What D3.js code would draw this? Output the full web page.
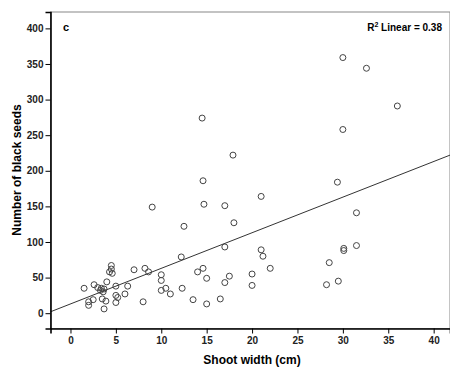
<!DOCTYPE html>
<html>
<head>
<meta charset="utf-8">
<script src="https://cdn.jsdelivr.net/npm/d3@7"></script>
<style>
  body { margin: 0; background: #fff; }
  text { font-family: "Liberation Sans", Arial, sans-serif; }
</style>
</head>
<body>
<svg id="chart" width="450" height="369"></svg>
<script>
// shoot width (cm) vs number of black seeds
const shootWidth = [
  1.5, 2.5, 2.0, 2.0, 2.6, 3.0, 3.4, 3.7, 3.3, 3.6, 3.5, 3.9, 3.7, 4.0,
  4.5, 4.5, 4.3, 4.6, 5.0, 5.0, 5.2, 5.0, 6.0, 6.3, 7.0, 8.2, 8.6, 8.0,
  10.0, 10.0, 10.0, 10.5, 11.0, 12.3, 12.2, 13.5, 14.0, 14.6, 15.0, 15.0,
  16.5, 17.0, 17.0, 17.5, 9.0, 12.5, 14.5, 14.6, 14.7, 17.0, 17.9, 18.0,
  20.0, 20.0, 21.0, 21.0, 21.2, 22.0, 28.2, 28.5, 29.4, 29.5, 30.0, 30.0,
  30.1, 30.1, 31.5, 31.5, 32.6, 36.0
];
const blackSeeds = [
  35, 19, 16, 11, 40, 36, 35, 34, 32, 30, 20, 17, 6, 44,
  67, 62, 58, 56, 38, 25, 22, 15, 27, 38, 61, 63, 58, 16,
  54, 46, 32, 35, 27, 35, 79, 19, 58, 63, 49, 13,
  20, 43, 93, 52, 149, 122, 274, 186, 153, 151, 222, 127,
  55, 39, 164, 89, 80, 63, 40, 71, 184, 45, 359, 258,
  91, 88, 141, 95, 344, 291
];
const xTicks = [0, 5, 10, 15, 20, 25, 30, 35, 40];
const yTicks = [0, 50, 100, 150, 200, 250, 300, 350, 400];
const fit = { intercept: 13, slope: 5.0, r2: 0.38 };

const svg = d3.select("#chart");
const plotL = 50.5, plotR = 450, plotT = 12, plotB = 328.5;

const x = d3.scaleLinear().domain([-2.2, 41.8]).range([plotL, plotR]);
const y = d3.scaleLinear().domain([-21.5, 423]).range([plotB, plotT]);

// frame
svg.append("rect")
  .attr("x", plotL).attr("y", plotT)
  .attr("width", plotR - plotL).attr("height", plotB - plotT)
  .attr("fill", "#fff").attr("stroke", "#888").attr("stroke-width", 1);

// fit line, clipped to plot area
svg.append("clipPath").attr("id", "clip")
  .append("rect").attr("x", plotL).attr("y", plotT)
  .attr("width", plotR - plotL).attr("height", plotB - plotT);

const [x0, x1] = x.domain();
svg.append("line")
  .attr("clip-path", "url(#clip)")
  .attr("x1", x(x0)).attr("y1", y(fit.intercept + fit.slope * x0))
  .attr("x2", x(x1)).attr("y2", y(fit.intercept + fit.slope * x1))
  .attr("stroke", "#333").attr("stroke-width", 1);

// points
const pts = shootWidth.map((w, i) => ({ w, s: blackSeeds[i] }));
svg.append("g").selectAll("circle")
  .data(pts)
  .join("circle")
  .attr("cx", d => x(d.w))
  .attr("cy", d => y(d.s))
  .attr("r", 3)
  .attr("fill", "none")
  .attr("stroke", "#444")
  .attr("stroke-width", 1);

// axes
const xAxis = svg.append("g")
  .attr("transform", `translate(0,${plotB})`)
  .call(d3.axisBottom(x).tickValues(xTicks).tickSize(5).tickPadding(3));
const yAxis = svg.append("g")
  .attr("transform", `translate(${plotL},0)`)
  .call(d3.axisLeft(y).tickValues(yTicks).tickSize(5).tickPadding(2));

[xAxis, yAxis].forEach(g => {
  g.select(".domain").attr("stroke", "#000").attr("stroke-width", 1.6);
  g.selectAll(".tick line").attr("stroke", "#000").attr("stroke-width", 1);
  g.selectAll(".tick text")
    .attr("fill", "#222")
    .style("font-size", "10px")
    .style("font-weight", "bold")
    .style("font-family", "'Liberation Sans Narrow', 'Liberation Sans', Arial, sans-serif");
});

// labels
svg.append("text")
  .attr("x", 252).attr("y", 364)
  .attr("text-anchor", "middle")
  .style("font-size", "12px").style("font-weight", "bold")
  .text("Shoot width (cm)");

svg.append("text")
  .attr("transform", `translate(21,170) rotate(-90)`)
  .attr("text-anchor", "middle")
  .style("font-size", "12px").style("font-weight", "bold")
  .text("Number of black seeds");

svg.append("text")
  .attr("x", 63).attr("y", 31)
  .style("font-size", "11px").style("font-weight", "bold")
  .text("c");

const r2 = svg.append("text")
  .attr("x", 442).attr("y", 31)
  .attr("text-anchor", "end")
  .style("font-size", "10px").style("font-weight", "bold")
  .style("font-family", "'Liberation Sans Narrow', 'Liberation Sans', Arial, sans-serif");
r2.append("tspan").text("R");
r2.append("tspan").attr("dy", -4).style("font-size", "7px").text("2");
r2.append("tspan").attr("dy", 4).text(` Linear = ${fit.r2}`);
</script>
</body>
</html>
